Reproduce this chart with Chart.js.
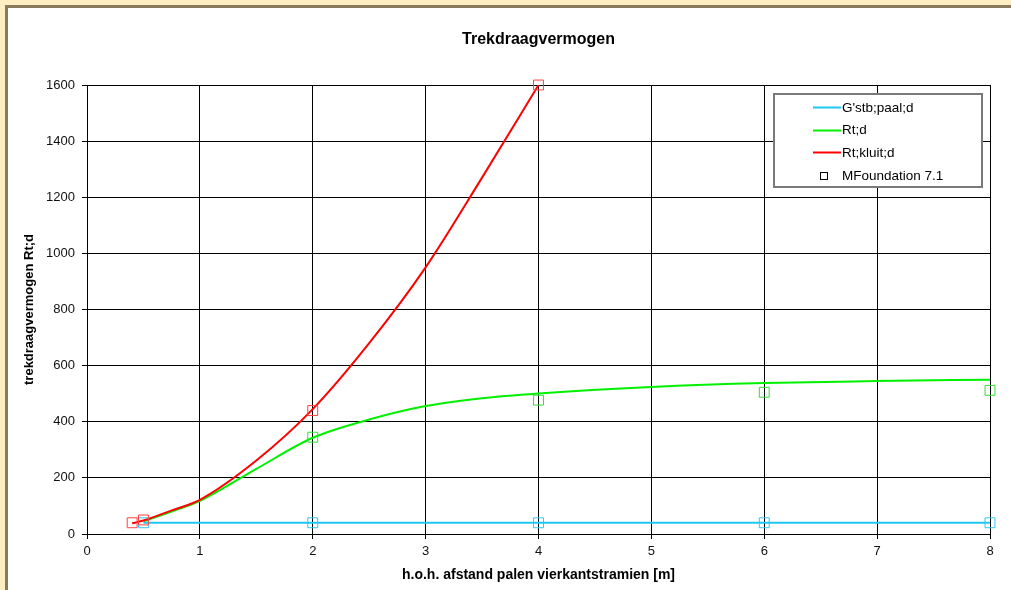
<!DOCTYPE html>
<html>
<head>
<meta charset="utf-8">
<script src="https://cdn.jsdelivr.net/npm/chart.js@4"></script>
<style>
  html, body { margin: 0; padding: 0; }
  body { width: 1011px; height: 590px; background: #fdefc3; overflow: hidden; position: relative; }
  #frame { position: absolute; left: 5px; top: 5px; width: 1006px; height: 585px; box-sizing: border-box;
           border-left: 3px solid #877b5c; border-top: 3px solid #877b5c; background: #fff; }
  canvas { display: block; }
</style>
</head>
<body>
<div id="frame"><canvas id="chart" width="1003" height="582"></canvas></div>
<script>
// h.o.h. afstand [m]
const afstand = [0.5, 0.75, 1, 1.5, 2, 2.5, 3, 3.5, 4, 5, 6, 7, 8];
const gstbPaal = [40, 40, 40, 40, 40, 40, 40, 40, 40, 40, 40, 40, 40];
const rtD = [45, 80, 118, 232, 343, 408, 456, 484, 501, 524, 538, 545, 550];

const kluitAfstand = [0.4, 0.5, 0.75, 1, 1.5, 2, 2.5, 3, 3.5, 4];
const rtKluit = [38, 48, 84, 122, 262, 445, 680, 950, 1270, 1600];

// MFoundation 7.1 results
const mfGstbX = [0.5, 2, 4, 6, 8];
const mfGstbY = [40, 40, 40, 40, 40];
const mfRtX = [2, 4, 6, 8];
const mfRtY = [345, 477, 505, 512];
const mfKluitX = [0.4, 0.5, 2, 4];
const mfKluitY = [40, 50, 440, 1600];

const xTicks = [0, 1, 2, 3, 4, 5, 6, 7, 8];
const yTicks = [0, 200, 400, 600, 800, 1000, 1200, 1400, 1600];

const pts = (xs, ys) => xs.map((x, i) => ({ x: x, y: ys[i] }));

const FONT = "'Liberation Sans', Arial, sans-serif";

const markers = (xs, ys, color) => ({
    label: "MFoundation 7.1",
    data: pts(xs, ys),
    showLine: false,
    clip: false,
    pointStyle: "rect",
    pointRadius: 7,
    pointHoverRadius: 7,
    pointBorderWidth: 1,
    pointBorderColor: color,
    pointBackgroundColor: "rgba(0,0,0,0)",
    order: 0
});

const legendItems = [
    { text: "G'stb;paal;d", color: "#1ec8f0", type: "line" },
    { text: "Rt;d", color: "#00f000", type: "line" },
    { text: "Rt;kluit;d", color: "#ff0000", type: "line" },
    { text: "MFoundation 7.1", color: "#000", type: "box" }
];

const decorations = {
    id: "decorations",
    afterDraw(chart) {
        const ctx = chart.ctx;
        const area = chart.chartArea;
        ctx.save();
        // title
        ctx.fillStyle = "#000";
        ctx.font = "bold 16px " + FONT;
        ctx.textAlign = "center";
        ctx.textBaseline = "middle";
        ctx.fillText("Trekdraagvermogen", (area.left + area.right) / 2, 32);

        // legend box
        const bx = 766, by = 86, bw = 208, bh = 93;
        ctx.fillStyle = "#fff";
        ctx.fillRect(bx, by, bw, bh);
        ctx.strokeStyle = "#7a7a7a";
        ctx.lineWidth = 2;
        ctx.strokeRect(bx, by, bw, bh);
        ctx.font = "13.5px " + FONT;
        ctx.textAlign = "left";
        legendItems.forEach((item, i) => {
            const y = 99 + i * 22.7;
            if (item.type === "line") {
                ctx.strokeStyle = item.color;
                ctx.lineWidth = 2;
                ctx.beginPath();
                ctx.moveTo(805, Math.round(y) + 0.5);
                ctx.lineTo(833, Math.round(y) + 0.5);
                ctx.stroke();
            } else {
                ctx.strokeStyle = item.color;
                ctx.lineWidth = 1;
                ctx.strokeRect(812.5, Math.round(y - 3) + 0.5, 7, 7);
            }
            ctx.fillStyle = "#000";
            ctx.fillText(item.text, 834, y + 1);
        });
        ctx.restore();
    }
};

new Chart(document.getElementById("chart"), {
    type: "line",
    data: {
        datasets: [
            markers(mfKluitX, mfKluitY, "#ff4040"),
            markers(mfRtX, mfRtY, "#30e030"),
            markers(mfGstbX, mfGstbY, "#30c8f0"),
            {
                label: "Rt;kluit;d",
                data: pts(kluitAfstand, rtKluit),
                borderColor: "#ff0000",
                borderWidth: 2,
                pointRadius: 0,
                cubicInterpolationMode: "monotone",
                order: 1
            },
            {
                label: "Rt;d",
                data: pts(afstand, rtD),
                borderColor: "#00f000",
                borderWidth: 2,
                pointRadius: 0,
                cubicInterpolationMode: "monotone",
                order: 2
            },
            {
                label: "G'stb;paal;d",
                data: pts(afstand, gstbPaal),
                borderColor: "#1ec8f0",
                borderWidth: 2,
                pointRadius: 0,
                order: 3
            }
        ]
    },
    options: {
        responsive: false,
        animation: false,
        events: [],
        layout: { padding: { left: 14, right: 21, top: 77, bottom: 6 } },
        plugins: {
            legend: { display: false },
            title: { display: false },
            tooltip: { enabled: false }
        },
        scales: {
            x: {
                type: "linear",
                min: 0,
                max: 8,
                afterBuildTicks(scale) { scale.ticks = xTicks.map(v => ({ value: v })); },
                afterFit(scale) { scale.height = 50; },
                ticks: { color: "#111", padding: 5, font: { family: FONT, size: 13 }, callback: v => String(v) },
                grid: { color: "#000", lineWidth: 1, tickLength: 5 },
                border: { color: "#000", width: 1 },
                title: {
                    display: true,
                    text: "h.o.h. afstand palen vierkantstramien [m]",
                    color: "#000",
                    padding: { top: 0, bottom: 0 },
                    font: { family: FONT, size: 14, weight: "bold" }
                }
            },
            y: {
                min: 0,
                max: 1600,
                afterBuildTicks(scale) { scale.ticks = yTicks.map(v => ({ value: v })); },
                afterFit(scale) { scale.width = 65; },
                ticks: { color: "#111", padding: 7, font: { family: FONT, size: 13 }, callback: v => String(v) },
                grid: { color: "#000", lineWidth: 1, tickLength: 5 },
                border: { color: "#000", width: 1 },
                title: {
                    display: true,
                    text: "trekdraagvermogen Rt;d",
                    color: "#000",
                    padding: { top: 0, bottom: 0 },
                    font: { family: FONT, size: 13, weight: "bold" }
                }
            }
        }
    },
    plugins: [decorations]
});
</script>
</body>
</html>
